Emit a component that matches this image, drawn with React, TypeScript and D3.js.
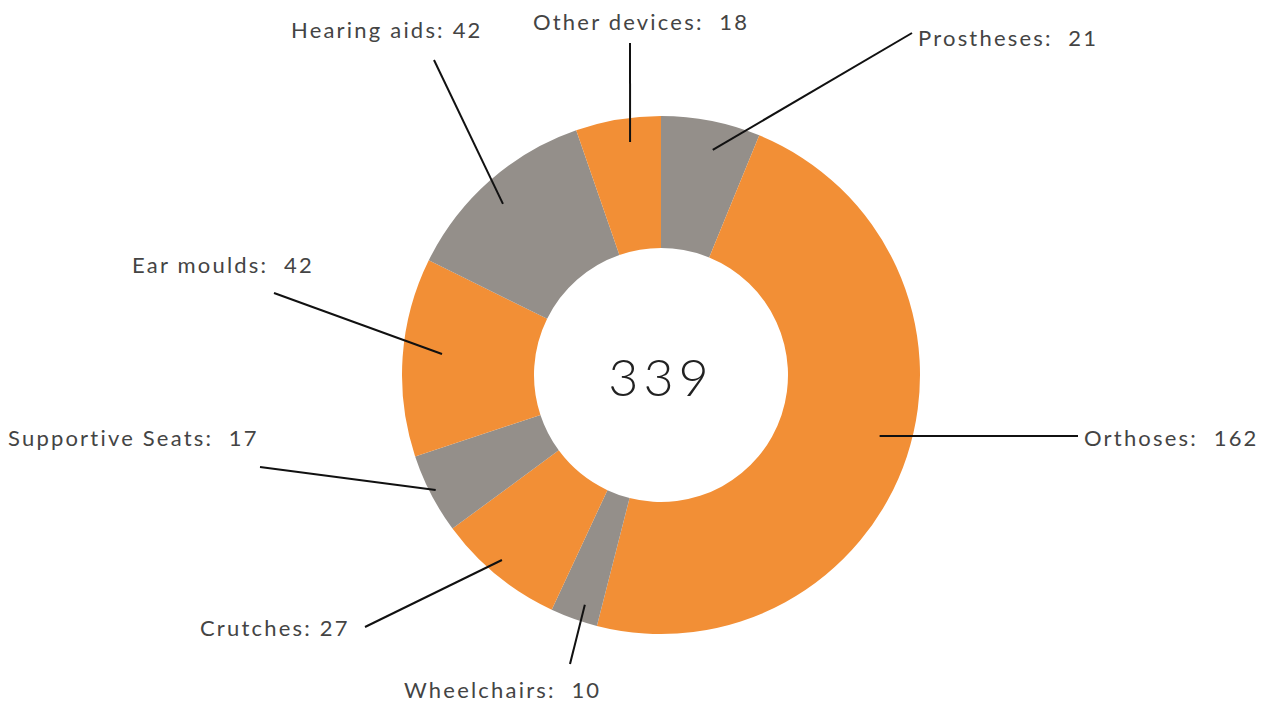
import React from "react";
import * as d3 from "d3";

const categories = ["Prostheses", "Orthoses", "Wheelchairs", "Crutches", "Supportive Seats", "Ear moulds", "Hearing aids", "Other devices"];
const values = [21, 162, 10, 27, 17, 42, 42, 18];
const separators = [":  ", ":  ", ":  ", ": ", ":  ", ":  ", ": ", ":  "];
const total = 339;

// layout: label start x, baseline y, leader outer end, leader inner radius and angle nudge (deg)
const labelLayout = [
  { x: 918, y: 46, lx: 912, ly: 33, r: 231, da: 1.8 },
  { x: 1084, y: 446, lx: 1078, ly: 436, r: 227, da: -2.7 },
  { x: 404, y: 698, lx: 570, ly: 664, r: 242, da: -1.3 },
  { x: 200, y: 636, lx: 365, ly: 627, r: 244, da: 1.4 },
  { x: 8, y: 446, lx: 260, ly: 467, r: 253, da: 0.3 },
  { x: 132, y: 273, lx: 274, ly: 293, r: 220, da: 1.5 },
  { x: 291, y: 38, lx: 434, ly: 60, r: 233, da: -1.3 },
  { x: 533, y: 30, lx: 630, ly: 43, r: 235, da: 2.0 },
];

const ORANGE = "#F28F36";
const GRAY = "#948F8A";
const colors = [GRAY, ORANGE, GRAY, ORANGE, GRAY, ORANGE, GRAY, ORANGE];

export default function App() {
  const W = 1271, H = 702;
  const cx = 661, cy = 375;
  const outerR = 259, innerR = 127;
  const data = categories.map((c, i) => ({ c, v: values[i], i }));
  const pie = d3.pie<any>().value((d: any) => d.v).sort(null).startAngle(0).endAngle(2 * Math.PI);
  const arcs = pie(data);
  const arc = d3.arc<any>().innerRadius(innerR).outerRadius(outerR);
  const font = "Lato, 'Open Sans', sans-serif";
  return (
    <svg width={W} height={H} style={{ position: "absolute", left: 0, top: 0, background: "#fff" }}>
      <g transform={`translate(${cx},${cy})`}>
        {arcs.map((a, i) => (
          <path key={i} d={arc(a) as string} fill={colors[i]} />
        ))}
      </g>
      {arcs.map((a, i) => {
        const L = labelLayout[i];
        const mid = (a.startAngle + a.endAngle) / 2 + (L.da * Math.PI) / 180;
        const ix = cx + Math.sin(mid) * L.r;
        const iy = cy - Math.cos(mid) * L.r;
        return (
          <g key={i}>
            <line x1={ix} y1={iy} x2={L.lx} y2={L.ly} stroke="#111" strokeWidth={2} />
            <text x={L.x} y={L.y} fontFamily={font} fontSize={22} letterSpacing={2.2} fill="#444" style={{ whiteSpace: "pre" }}>
              {categories[i] + separators[i] + values[i]}
            </text>
          </g>
        );
      })}
      <text x={cx} y={396} textAnchor="middle" fontFamily={font} fontWeight={300} fontSize={52} letterSpacing={5} fill="#222">
        {total}
      </text>
    </svg>
  );
}
